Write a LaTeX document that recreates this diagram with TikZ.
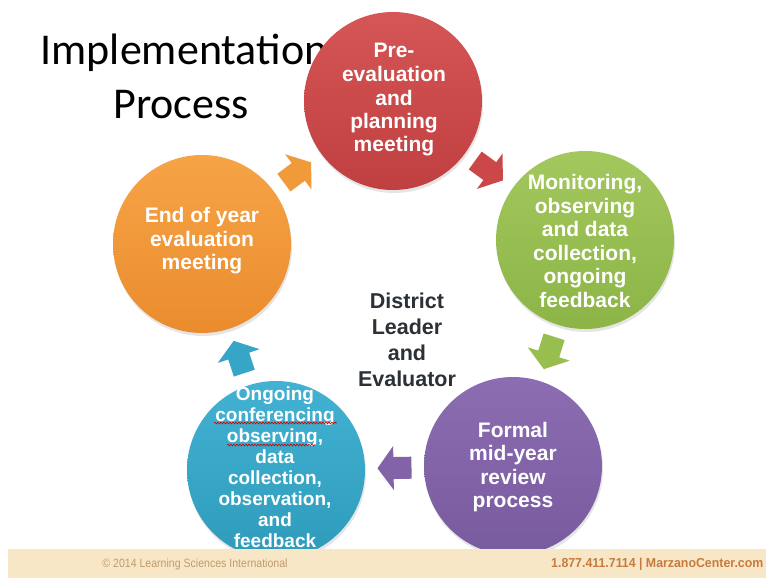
\documentclass[tikz,border=0pt]{standalone}
\usepackage{fontspec}
\setmainfont{Liberation Sans}
\newfontfamily\titlefont{Carlito}
\usetikzlibrary{calc,decorations.pathmorphing}
\definecolor{redT}{HTML}{D55656}
\definecolor{redB}{HTML}{C03F40}
\definecolor{redC}{HTML}{CB4748}
\definecolor{greenT}{HTML}{A3C85E}
\definecolor{greenB}{HTML}{8CB446}
\definecolor{greenC}{HTML}{98BE50}
\definecolor{purpleT}{HTML}{8D6DB2}
\definecolor{purpleB}{HTML}{785A9E}
\definecolor{purpleC}{HTML}{8263A8}
\definecolor{blueT}{HTML}{43B2D2}
\definecolor{blueB}{HTML}{2E9BBB}
\definecolor{blueC}{HTML}{37A6C6}
\definecolor{orangeT}{HTML}{F6A446}
\definecolor{orangeB}{HTML}{EA8C2E}
\definecolor{orangeC}{HTML}{F09A3A}
\definecolor{footbar}{HTML}{F8E7C7}
\definecolor{footleft}{HTML}{C29A6C}
\definecolor{footright}{HTML}{C77B3E}
\definecolor{centertext}{HTML}{2B3136}
\begin{document}
\begin{tikzpicture}[
  x=1pt, y=-1pt,
  bubble/.style={circle, minimum size=178pt, inner sep=0pt},
  shade/.style={circle, minimum size=178pt, inner sep=0pt, fill=black, opacity=0.10},
  ctext/.style={text=white, font=\bfseries\fontsize{21}{23.5}\selectfont, align=center, inner sep=0pt},
  pics/blockarrow/.style={code={\fill[#1] (-17,-11) -- (1,-11) -- (1,-22) -- (17,0) -- (1,22) -- (1,11) -- (-17,11) -- cycle;}},
  squiggle/.style={draw=red!80!black, line width=0.6pt, decorate, decoration={snake, amplitude=0.9pt, segment length=3pt}}
]
\useasboundingbox (0,0) rectangle (766,578);
\fill[white] (0,0) rectangle (766,578);

% title
\node[font=\titlefont\fontsize{44}{52}\selectfont, anchor=base, inner sep=0pt] (title1) at (184,65) {Implementation};
\node[font=\titlefont\fontsize{44}{52}\selectfont, anchor=base, inner sep=0pt] (title2) at (181,118) {Process};

% soft shadows
\node[shade] (sred) at (394,104) {};
\node[shade] (sgreen) at (586,243) {};
\node[shade] (spurple) at (514,469) {};
\node[shade] (sblue) at (277,473) {};
\node[shade] (sorange) at (203,247) {};

% circles
\node[bubble, top color=redT, bottom color=redB] (red) at (393,101) {};
\node[bubble, top color=greenT, bottom color=greenB] (green) at (585,240) {};
\node[bubble, top color=purpleT, bottom color=purpleB] (purple) at (513,466) {};
\node[bubble, top color=blueT, bottom color=blueB] (blue) at (276,470) {};
\node[bubble, top color=orangeT, bottom color=orangeB] (orange) at (202,244) {};

% arrows
\path (orange) -- pic[pos=0.5, sloped, allow upside down] {blockarrow=orangeC} (red);
\path (red) -- pic[pos=0.5, sloped, allow upside down] {blockarrow=redC} (green);
\path (green) -- pic[pos=0.5, sloped, allow upside down] {blockarrow=greenC} (purple);
\path (purple) -- pic[pos=0.5, sloped, allow upside down] {blockarrow=purpleC} (blue);
\path (blue) -- pic[pos=0.5, sloped, allow upside down] {blockarrow=blueC} (orange);

% footer
\fill[footbar] (8,549) rectangle (766,578);
\node[anchor=center, inner sep=0pt, text=footleft, font=\fontsize{12}{14}\selectfont] (foot1) at (195,564) {\scalebox{0.88}[1]{\textcopyright{} 2014 Learning Sciences International}};
\node[anchor=west, inner sep=0pt, text=footright, font=\bfseries\fontsize{13}{15}\selectfont] (foot2) at (551,564) {\scalebox{0.95}[1]{1.877.411.7114 | MarzanoCenter.com}};

% circle texts
\node[ctext] (redtext) at (394,100) {Pre-\\evaluation\\and\\planning\\meeting};
\node[ctext] (greentext) at (585,241) {Monitoring,\\observing\\and data\\collection,\\ongoing\\feedback};
\node[ctext] (purpletext) at (513,467) {Formal\\mid-year\\review\\process};
\node[ctext, font=\bfseries\fontsize{19}{21}\selectfont] (bluetext) at (275,467) {Ongoing\\conferencing\\observing,\\data\\collection,\\observation,\\and\\feedback};
\node[ctext] (orangetext) at (202,241) {End of year\\evaluation\\meeting};

% spelling squiggles
\coordinate (sq1a) at (214,423);
\coordinate (sq1b) at (337,423);
\coordinate (sq2a) at (227,445);
\coordinate (sq2b) at (315,445);
\draw[squiggle] (sq1a) -- (sq1b);
\draw[squiggle] (sq2a) -- (sq2b);

% center text
\node[align=center, text=centertext, font=\bfseries\fontsize{21.5}{26}\selectfont, inner sep=0pt] (center) at (407,340) {District\\Leader\\and\\Evaluator};
\end{tikzpicture}
\end{document}
